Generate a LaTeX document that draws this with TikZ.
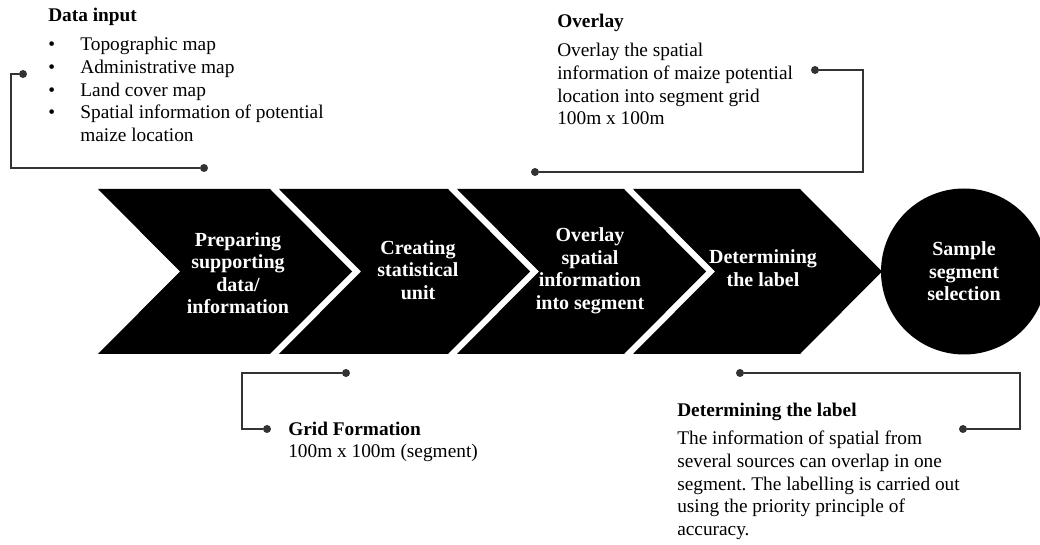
\documentclass[tikz,border=0pt]{standalone}
\usepackage{fontspec}
\setmainfont{Liberation Serif}
\usetikzlibrary{positioning,calc}
\frenchspacing
\newcommand{\dfont}{\fontsize{14.5pt}{16.9pt}\selectfont}
\tikzset{
  chev/.style={fill=black},
  chevtxt/.style={text=white,font=\fontsize{15pt}{16.9pt}\selectfont\bfseries,
    align=center,inner sep=0pt},
  lead/.style={line width=1.5pt,black!80},
  dot/.style={circle,fill=black!80,inner sep=0pt,minimum size=6pt},
  ttl/.style={font=\dfont\bfseries,anchor=base west,inner sep=0pt},
  body/.style={font=\dfont,anchor=base west,inner sep=0pt},
}

\begin{document}
\begin{tikzpicture}[x=0.75pt,y=-0.75pt]
  \useasboundingbox (0,0) rectangle (1040,545);
  % process chevrons
  \foreach \xl/\xr in {98/270,279/448,457/624,633/800}{
    \fill[chev] (\xl,189) -- (\xr,189) -- (\xr+82,271.5) -- (\xr,354)
      -- (\xl,354) -- (\xl+82,271.5) -- cycle;
  }
  \node[chevtxt] (prep) at (238,273) {Preparing\\supporting\\data/\\information};
  \node[chevtxt] (stat) at (418,270) {Creating\\statistical\\unit};
  \node[chevtxt] (ovl) at (590,271) {Overlay\\spatial\\information\\into segment};
  \node[chevtxt] (lab) at (763,268) {Determining\\the label};
  \node[chevtxt,circle,fill=black,minimum size=124.5pt] (sel) at (964,271.5)
    {Sample\\segment\\selection};

  % callout texts
  \node[ttl] (inT) at (48,22) {Data input};
  \node[body] (inL) at (48,51) {\begin{tabular}[t]{@{}l@{\hspace{19pt}}l@{}}
    \textbullet & Topographic map\\
    \textbullet & Administrative map\\
    \textbullet & Land cover map\\
    \textbullet & Spatial information of potential\\
                & maize location\end{tabular}};
  \node[ttl] (ovT) at (557,28) {Overlay};
  \node[body] (ovB) at (557,57) {\begin{tabular}[t]{@{}l@{}}
    Overlay the spatial\\
    information of maize potential\\
    location into segment grid\\
    100m x 100m\end{tabular}};
  \node[ttl] (grT) at (288,436) {Grid Formation};
  \node[body] (grB) at (288,458) {100m x 100m (segment)};
  \node[ttl] (lbT) at (677,417) {Determining the label};
  \node[body] (lbB) at (677,445) {\begin{tabular}[t]{@{}l@{}}
    The information of spatial from\\
    several sources can overlap in one\\
    segment. The labelling is carried out\\
    using the priority principle of\\
    accuracy.\end{tabular}};

  % leader lines
  \node[dot] (d1a) at (23,74) {};
  \node[dot] (d1b) at (204,168) {};
  \coordinate (k1) at (11,168);
  \draw[lead] (d1a) -| (k1) -- (d1b);
  \node[dot] (d2a) at (815,70) {};
  \node[dot] (d2b) at (535,172) {};
  \coordinate (k2) at (863,172);
  \draw[lead] (d2a) -| (k2) -- (d2b);
  \node[dot] (d3a) at (346,373) {};
  \node[dot] (d3b) at (267,429) {};
  \coordinate (k3) at (242,429);
  \draw[lead] (d3a) -| (k3) -- (d3b);
  \node[dot] (d4a) at (740,373) {};
  \node[dot] (d4b) at (963,429) {};
  \coordinate (k4) at (1020,429);
  \draw[lead] (d4a) -| (k4) -- (d4b);
\end{tikzpicture}
\end{document}
